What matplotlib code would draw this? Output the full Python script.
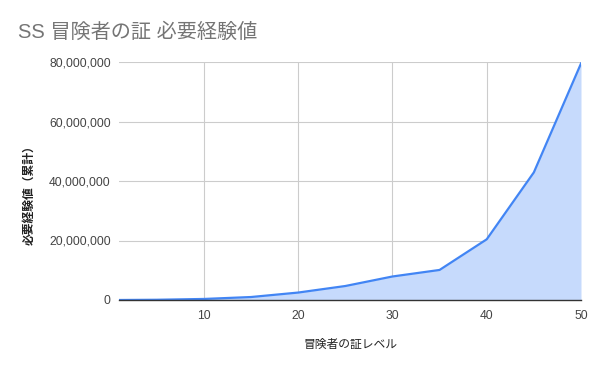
import matplotlib
matplotlib.use("Agg")
import matplotlib.pyplot as plt
from matplotlib.ticker import FuncFormatter

levels = [1, 5, 10, 15, 20, 25, 30, 35, 40, 45, 50]
exp_total = [0, 80000, 350000, 1000000, 2500000, 4700000, 7900000, 10100000, 20400000, 42900000, 79500000]
x_ticks = [10, 20, 30, 40, 50]
y_ticks = [0, 20000000, 40000000, 60000000, 80000000]

title = "SS 冒険者の証 必要経験値"
x_label = "冒険者の証レベル"
y_label = "必要経験値（累計）"

plt.rcParams['font.family'] = ['Liberation Sans', 'Noto Sans CJK JP', 'DejaVu Sans']

fig = plt.figure(figsize=(6, 3.71), dpi=100)
ax = fig.add_axes([119/600, 1-300/371, (581-119)/600, (300-62)/371])

ax.fill_between(levels, exp_total, 0, color='#c6dafc', linewidth=0)
ax.plot(levels, exp_total, color='#4285f4', linewidth=1.6)

ax.set_xlim(1, 50)
ax.set_ylim(0, 80000000)
ax.set_xticks(x_ticks)
ax.set_yticks(y_ticks)
ax.yaxis.set_major_formatter(FuncFormatter(lambda v, p: f"{int(v):,}"))
ax.grid(True, color='#cccccc', linewidth=0.8)
ax.set_axisbelow(True)
for s in ['top', 'right', 'left']:
    ax.spines[s].set_visible(False)
ax.spines['bottom'].set_color('#333333')
ax.spines['bottom'].set_linewidth(1.0)
ax.spines['bottom'].set_zorder(5)
ax.tick_params(axis='both', length=0, labelsize=8.7, labelcolor='#444444')
ax.tick_params(axis='x', pad=7)
ax.tick_params(axis='y', pad=6)

fig.text(18/600, 1-32/371, title, fontsize=14.5, color='#757575', va='center', ha='left')
fig.text(350/600, 1-345/371, x_label, fontsize=8.5, color='#222222', va='center', ha='center')
fig.text(30/600, 1-192/371, y_label, fontsize=8.5, color='#222222', va='center', ha='center',
         rotation=90, fontweight='bold')

fig.savefig("out.png", dpi=100, facecolor='white')
